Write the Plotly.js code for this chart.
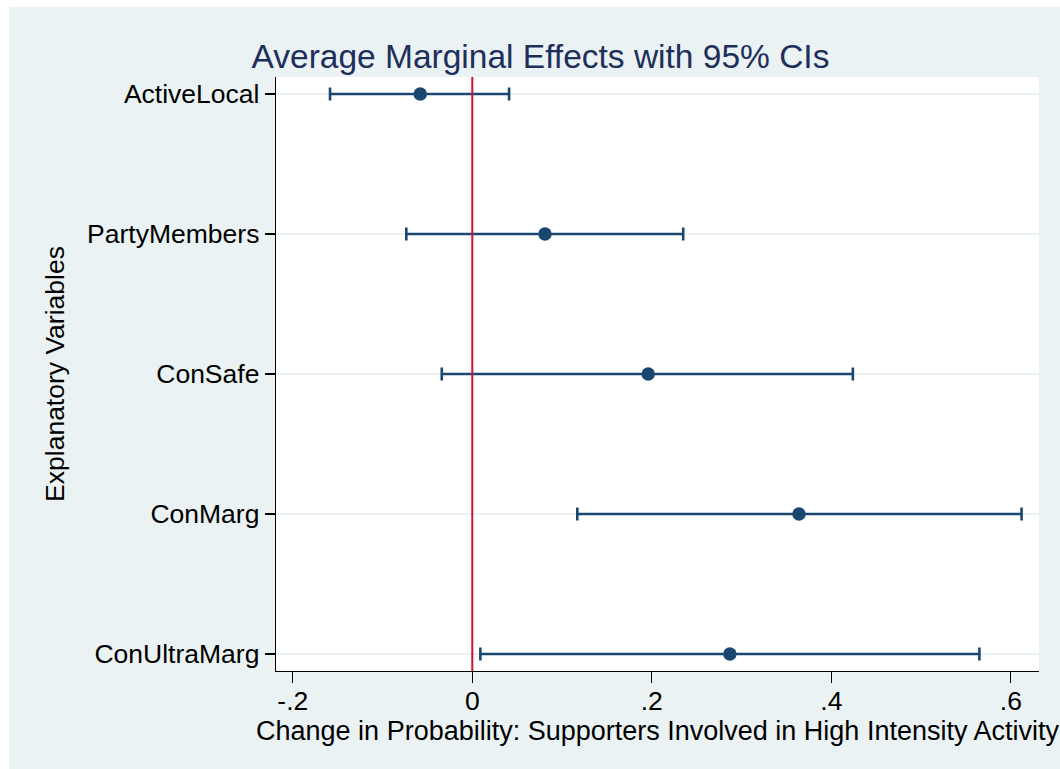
<!DOCTYPE html>
<html>
<head>
<meta charset="utf-8">
<script src="https://cdn.plot.ly/plotly-3.0.1.min.js"></script>
<style>
  html, body { margin: 0; padding: 0; background: #ffffff; }
  #chart { position: absolute; left: 9px; top: 7px; width: 1051px; height: 762px; }
</style>
</head>
<body>
<div id="chart"></div>
<script>
// Data
const categories = ["ActiveLocal", "PartyMembers", "ConSafe", "ConMarg", "ConUltraMarg"];
const estimates  = [-0.058, 0.081, 0.196, 0.364, 0.287];
const ciLower    = [-0.1585, -0.0735, -0.034, 0.117, 0.009];
const ciUpper    = [0.041, 0.235, 0.424, 0.612, 0.565];
const xTickVals  = [-0.2, 0, 0.2, 0.4, 0.6];
const xTickText  = ["-.2", "0", ".2", ".4", ".6"];

const navy = "#1a476f";
const bg = "#eaf2f3";
const font = "Liberation Sans, Arial, Helvetica, sans-serif";

const trace = {
  type: "scatter",
  mode: "markers",
  x: estimates,
  y: categories,
  marker: { color: navy, size: 13.5 },
  error_x: {
    type: "data",
    symmetric: false,
    array: estimates.map((e, i) => ciUpper[i] - e),
    arrayminus: estimates.map((e, i) => e - ciLower[i]),
    color: navy,
    thickness: 2.6,
    width: 6.5
  },
  hoverinfo: "x+y",
  showlegend: false
};

const layout = {
  width: 1051,
  height: 762,
  paper_bgcolor: bg,
  plot_bgcolor: "#ffffff",
  margin: { l: 267, r: 21, t: 70, b: 98 },
  font: { family: font, color: "#000000", size: 26.5 },
  title: {
    text: "Average Marginal Effects with 95% CIs",
    font: { family: font, size: 33.5, color: "#1e2f5c" },
    xref: "container", x: 0.5057, xanchor: "center",
    yref: "container", y: 0.935, yanchor: "middle"
  },
  xaxis: {
    range: [-0.2187, 0.6314],
    tickvals: xTickVals,
    ticktext: xTickText,
    ticks: "outside",
    ticklen: 11,
    tickwidth: 1.3,
    tickcolor: "#000000",
    ticklabelstandoff: -5,
    showline: true,
    linecolor: "#000000",
    linewidth: 1.3,
    showgrid: false,
    zeroline: false,
    tickfont: { family: font, size: 26.5, color: "#000000" },
    title: {
      text: "Change in Probability: Supporters Involved in High Intensity Activity",
      font: { family: font, size: 27, color: "#000000" },
      standoff: 2
    }
  },
  yaxis: {
    type: "category",
    categoryorder: "array",
    categoryarray: categories,
    range: [4.121, -0.121],
    ticks: "outside",
    ticklen: 10,
    tickwidth: 1.3,
    tickcolor: "#000000",
    showline: true,
    linecolor: "#000000",
    linewidth: 1.3,
    showgrid: true,
    gridcolor: bg,
    gridwidth: 2,
    zeroline: false,
    tickfont: { family: font, size: 26.5, color: "#000000" },
    title: {
      text: "Explanatory Variables",
      font: { family: font, size: 26.5, color: "#000000" },
      standoff: 14
    }
  },
  shapes: [{
    type: "line",
    xref: "x", yref: "paper",
    x0: 0, x1: 0, y0: 0, y1: 1,
    line: { color: "#c8143c", width: 2 },
    layer: "above"
  }]
};

Plotly.newPlot("chart", [trace], layout, { displayModeBar: false, staticPlot: true });
</script>
</body>
</html>
